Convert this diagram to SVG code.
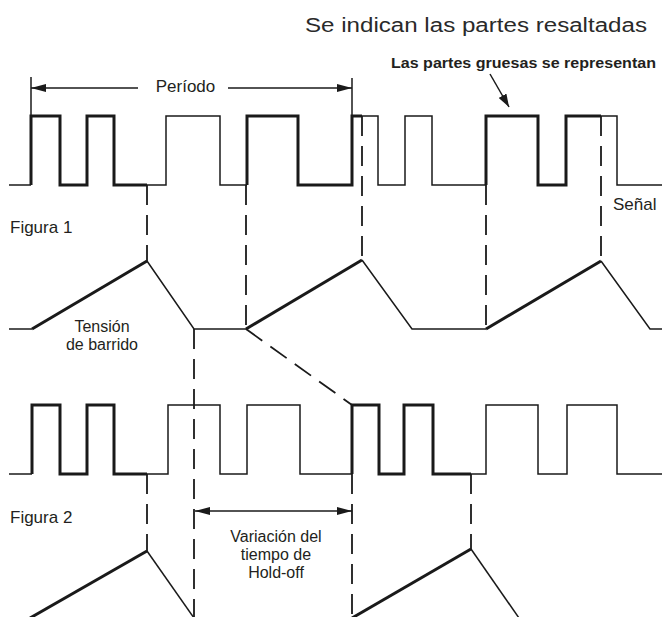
<svg xmlns="http://www.w3.org/2000/svg" width="662" height="617" viewBox="0 0 662 617">
<style>
.thin{fill:none;stroke:#1a1a1a;stroke-width:1.5;stroke-linejoin:miter}
.thick{fill:none;stroke:#1a1a1a;stroke-width:3;stroke-linejoin:miter}
.dash{fill:none;stroke:#1a1a1a;stroke-width:1.8;stroke-dasharray:20 10}
.arr{fill:none;stroke:#1a1a1a;stroke-width:1.5}
.t{font-family:"Liberation Sans",Arial,sans-serif;font-size:17px;fill:#231f20}
.m{font-size:16px}
.c{text-anchor:middle}
</style>
<defs>
<marker id="ah" viewBox="0 0 15 8" refX="15" refY="4" markerWidth="15" markerHeight="8" markerUnits="userSpaceOnUse" orient="auto-start-reverse">
<path d="M0,0 L15,4 L0,8 z" fill="#1a1a1a"/>
</marker>
<marker id="ah2" viewBox="0 0 13 9" refX="13" refY="4.5" markerWidth="13" markerHeight="9" markerUnits="userSpaceOnUse" orient="auto">
<path d="M0,0 L13,4.5 L0,9 z" fill="#1a1a1a"/>
</marker>
</defs>
<rect width="662" height="617" fill="#fff"/>

<g id="title">
<text x="305" y="32" font-family="Liberation Sans, Arial, sans-serif" font-size="20" fill="#2a2a2a" textLength="342" lengthAdjust="spacingAndGlyphs">Se indican las partes resaltadas</text>
</g>
<g id="note">
<text x="391" y="68" font-family="Liberation Sans, Arial, sans-serif" font-size="15.5" font-weight="bold" fill="#231f20" textLength="265" lengthAdjust="spacingAndGlyphs">Las partes gruesas se representan</text>
</g>

<g id="signal1">
<path class="thin" d="M9,185 H31"/>
<path class="thick" d="M31,185 V116 H60 V185 H87 V116 H114 V185 H147"/>
<path class="thin" d="M147,185 H166 V116 H220 V185 H247"/>
<path class="thick" d="M247,185 V116 H298 V185 H352 V116 H362"/>
<path class="thin" d="M362,116 H378 V185 H405 V116 H432 V185 H486"/>
<path class="thick" d="M486,185 V116 H538 V185 H566 V116 H601"/>
<path class="thin" d="M601,116 H617 V185 H662"/>
</g>

<g id="sweep1">
<path class="thin" d="M9,329 H32"/>
<path class="thick" d="M32,329 L147,261"/>
<path class="thin" d="M147,261 L194,329 H246"/>
<path class="thick" d="M246,329 L362,260"/>
<path class="thin" d="M362,260 L412,329 H486"/>
<path class="thick" d="M486,329 L601,261"/>
<path class="thin" d="M601,261 L650,329 H662"/>
</g>

<g id="signal2">
<path class="thin" d="M9,474 H32"/>
<path class="thick" d="M32,474 V405 H60 V474 H87 V405 H114 V474 H147"/>
<path class="thin" d="M147,474 H168 V405 H220 V474 H247 V405 H300 V474 H352"/>
<path class="thick" d="M352,474 V405 H379 V474 H404 V405 H433 V474 H471"/>
<path class="thin" d="M471,474 H486 V405 H538 V474 H567 V405 H617 V474 H662"/>
</g>

<g id="sweep2">
<path class="thick" d="M30,618 L147,551"/>
<path class="thin" d="M147,551 L194,618"/>
<path class="thick" d="M352,618 L471,549"/>
<path class="thin" d="M471,549 L519,618"/>
</g>

<g id="connectors">
<path class="dash" d="M147,185 V261"/>
<path class="dash" d="M246,185 V329"/>
<path class="dash" d="M362,116 V260"/>
<path class="dash" d="M486,185 V329"/>
<path class="dash" d="M601,116 V261"/>
<path class="dash" d="M194,329 V617"/>
<path class="dash" d="M246,329 L352,405"/>
<path class="dash" d="M147,474 V551"/>
<path class="dash" d="M352,474 V617"/>
<path class="dash" d="M471,474 V549"/>
<path class="arr" d="M31,77 V116"/>
<path class="arr" d="M352,78 V116"/>
<path class="arr" d="M138,88 H31" marker-end="url(#ah)"/>
<path class="arr" d="M228,88 H352" marker-end="url(#ah)"/>
<path class="arr" d="M195,511 H352" marker-start="url(#ah)" marker-end="url(#ah)"/>
<path class="arr" d="M490,74 L509,107" marker-end="url(#ah2)"/>
</g>

<g id="labels">
<text class="t c" x="185.5" y="92">Período</text>
<text class="t" x="10" y="233">Figura 1</text>
<text class="t" x="613" y="210">Señal</text>
<text class="t m c" x="102" y="332">Tensión</text>
<text class="t m c" x="102" y="350">de barrido</text>
<text class="t" x="10" y="523">Figura 2</text>
<text class="t m c" x="276" y="542">Variación del</text>
<text class="t m c" x="276" y="560">tiempo de</text>
<text class="t m c" x="276" y="578">Hold-off</text>
</g>
</svg>
